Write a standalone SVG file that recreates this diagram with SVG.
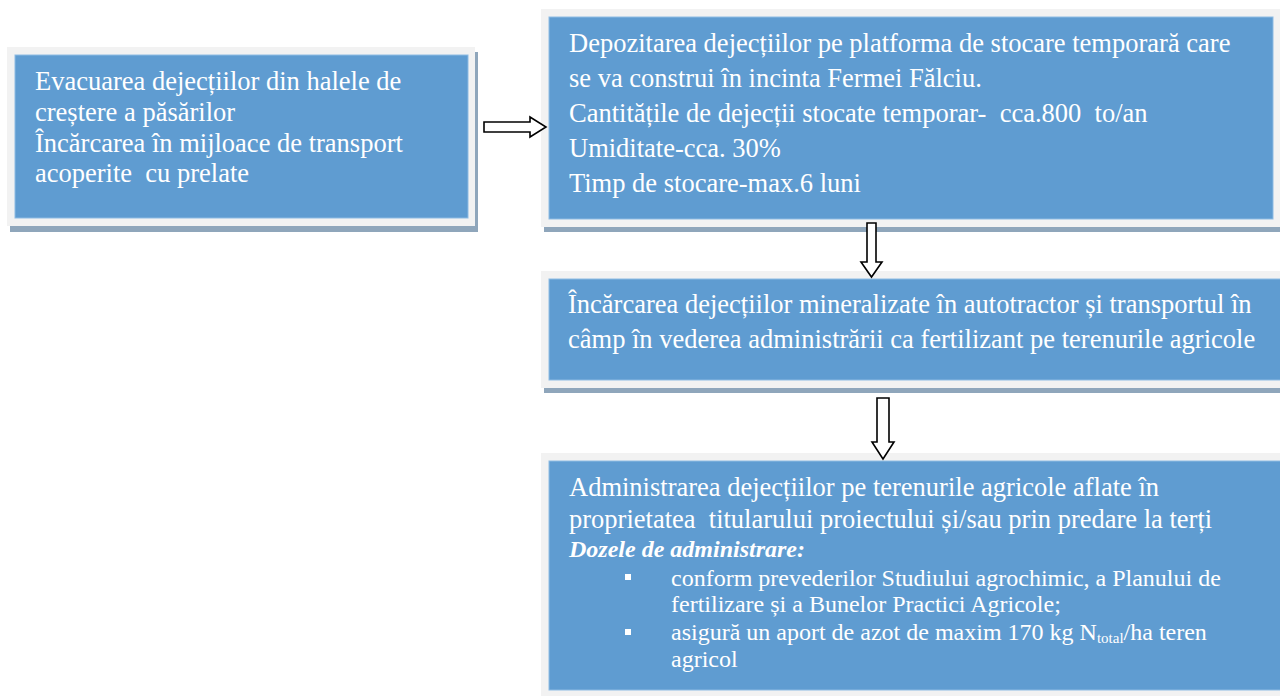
<svg xmlns="http://www.w3.org/2000/svg" width="1280" height="696" viewBox="0 0 1280 696">
<style>
.shadow{fill:#8fa6bb}
.frame{fill:#f2f2f2}
.box{fill:#5f9cd1;stroke:#8dbbe3;stroke-width:1}
.t{font-family:"Liberation Serif","Times New Roman",serif;font-size:26.5px;fill:#ffffff;white-space:pre}
.b{font-family:"Liberation Serif","Times New Roman",serif;font-size:24px;fill:#ffffff;white-space:pre}
.bi{font-family:"Liberation Serif","Times New Roman",serif;font-size:24px;font-weight:bold;font-style:italic;fill:#ffffff}
.arrow{fill:#ffffff;stroke:#000000;stroke-width:1.6;stroke-linejoin:miter}
.bullet{fill:#ffffff}
</style>
<rect width="1280" height="696" fill="#ffffff"/>
<g id="node-evacuare">
<rect class="shadow" x="10" y="52" width="468" height="180"/>
<rect class="frame" x="7" y="47" width="468" height="179"/>
<rect class="box" x="15" y="55" width="453" height="163"/>
<text class="t" x="35" y="90">Evacuarea dejecțiilor din halele de</text>
<text class="t" x="35" y="121">creștere a păsărilor</text>
<text class="t" x="35" y="152">Încărcarea în mijloace de transport</text>
<text class="t" x="35" y="182">acoperite  cu prelate</text>
</g>
<g id="node-depozitare">
<rect class="shadow" x="544" y="14" width="744" height="218"/>
<rect class="frame" x="541" y="9" width="744" height="218"/>
<rect class="box" x="549" y="17" width="724" height="202"/>
<text class="t" x="569" y="52">Depozitarea dejecțiilor pe platforma de stocare temporară care</text>
<text class="t" x="569" y="87">se va construi în incinta Fermei Fălciu.</text>
<text class="t" x="569" y="122">Cantitățile de dejecții stocate temporar-  cca.800  to/an</text>
<text class="t" x="569" y="157">Umiditate-cca. 30%</text>
<text class="t" x="569" y="192">Timp de stocare-max.6 luni</text>
</g>
<g id="node-incarcare">
<rect class="shadow" x="544" y="276" width="744" height="117"/>
<rect class="frame" x="541" y="271" width="748" height="117"/>
<rect class="box" x="549" y="279" width="740" height="101"/>
<text class="t" x="568" y="313">Încărcarea dejecțiilor mineralizate în autotractor și transportul în</text>
<text class="t" x="568" y="348">câmp în vederea administrării ca fertilizant pe terenurile agricole</text>
</g>
<g id="node-administrare">
<rect class="frame" x="541" y="453" width="748" height="250"/>
<rect class="box" x="549" y="461" width="740" height="229"/>
<text class="t" x="569" y="496">Administrarea dejecțiilor pe terenurile agricole aflate în</text>
<text class="t" x="569" y="528">proprietatea  titularului proiectului și/sau prin predare la terți</text>
<text class="bi" x="569" y="557">Dozele de administrare:</text>
<rect class="bullet" x="625" y="574" width="6" height="6"/>
<text class="b" x="671" y="586">conform prevederilor Studiului agrochimic, a Planului de</text>
<text class="b" x="671" y="612">fertilizare și a Bunelor Practici Agricole;</text>
<rect class="bullet" x="625" y="629" width="6" height="6"/>
<text class="b" x="671" y="640">asigură un aport de azot de maxim 170 kg N<tspan font-size="15" dy="3">total</tspan><tspan dy="-3">/ha teren</tspan></text>
<text class="b" x="671" y="667">agricol</text>
</g>
<g id="connectors">
<polygon class="arrow" points="484,122 530,122 530,117 546,127 530,137 530,132 484,132"/>
<polygon class="arrow" points="867,223 876,223 876,262 882,262 871.5,277 861,262 867,262"/>
<polygon class="arrow" points="877,398 889,398 889,442 894,442 883,459 872,442 877,442"/>
</g>
</svg>
